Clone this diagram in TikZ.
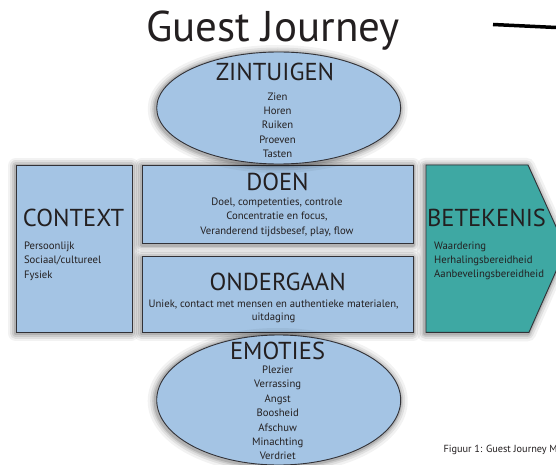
\documentclass[tikz,border=0pt]{standalone}
\usepackage{fontspec}
\setmainfont{PT Sans}
\usetikzlibrary{shapes.geometric}
\definecolor{boxblue}{RGB}{164,196,228}
\definecolor{tealbox}{RGB}{62,168,163}
\definecolor{edgegray}{RGB}{50,50,55}
\definecolor{ink}{RGB}{35,31,32}
\begin{document}
\begin{tikzpicture}[x=1pt,y=-1pt,
  glow/.style={
    preaction={draw=black,draw opacity=0.05,line width=16pt,line join=round,transform canvas={xshift=-1pt,yshift=-1pt}},
    preaction={draw=black,draw opacity=0.07,line width=11pt,line join=round,transform canvas={xshift=-1pt,yshift=-1pt}},
    preaction={draw=black,draw opacity=0.09,line width=7pt,line join=round,transform canvas={xshift=-1pt,yshift=-1pt}},
    preaction={draw=black,draw opacity=0.12,line width=4pt,line join=round,transform canvas={xshift=-1pt,yshift=-1pt}}},
  panel/.style={glow,draw=edgegray,line width=0.9pt,fill=boxblue,inner sep=0pt},
  heading/.style={font=\fontsize{24.5}{29}\selectfont,text=ink,inner sep=0pt,anchor=base},
  listc/.style={font=\fontsize{10.7}{14.4}\selectfont,text=ink,inner sep=0pt,align=center,anchor=base},
  listl/.style={font=\fontsize{10.7}{14.4}\selectfont,text=ink,inner sep=0pt,align=left,anchor=base west}]
\useasboundingbox (0,0) rectangle (556,465);
\fill[white] (0,0) rectangle (556,465);
% title and line
\node[font=\fontsize{43}{50}\selectfont,text=ink,inner sep=0pt,anchor=base] (title) at (273,42) {Guest Journey};
\coordinate (l1) at (493,24.5);
\coordinate (l2) at (556,27.5);
\draw[line width=3.5pt,black] (l1) -- (l2);
% boxes
\node[panel,minimum width=115.3pt,minimum height=167.3pt] (context) at (74.35,248.65) {};
\node[panel,minimum width=270.8pt,minimum height=78.5pt] (doen) at (278.1,204.25) {};
\node[panel,minimum width=270.8pt,minimum height=75.8pt] (ondergaan) at (278.1,294.4) {};
\draw[glow,draw=edgegray,line width=0.9pt,fill=tealbox] (426,165) -- (528,165) -- (566,248.65) -- (529,332.3) -- (426,332.3) -- cycle;
% ellipses
\node[panel,ellipse,minimum width=244pt,minimum height=112pt] (zint) at (278.7,108) {};
\node[panel,ellipse,minimum width=244pt,minimum height=130pt] (emot) at (278.7,400) {};
% texts (base anchor of a multi-line node = last line)
\node[heading] (zinth) at (275,80.7) {ZINTUIGEN};
\node[listc] (zintl) at (277.5,157.8) {Zien\\Horen\\Ruiken\\Proeven\\Tasten};
\node[heading] (doenh) at (277.5,190) {DOEN};
\node[listc] (doenl) at (277,234.3) {Doel, competenties, controle\\Concentratie en focus,\\Veranderend tijdsbesef, play, flow};
\node[heading] (conth) at (73.6,226.7) {CONTEXT};
\node[listl] (contl) at (23.8,278.3) {Persoonlijk\\Sociaal/cultureel\\Fysiek};
\node[heading] (ondh) at (277.7,290.7) {ONDERGAAN};
\node[listc,font=\fontsize{10.7}{13}\selectfont] (ondl) at (273.6,320.5) {Uniek, contact met mensen en authentieke materialen,\\uitdaging};
\node[heading] (beth) at (486.5,226.7) {BETEKENIS};
\node[listl] (betl) at (434,277.9) {Waardering\\Herhalingsbereidheid\\Aanbevelingsbereidheid};
\node[heading] (emoth) at (277.5,359.3) {EMOTIES};
\node[listc] (emotl) at (277.7,459.9) {Plezier\\Verrassing\\Angst\\Boosheid\\Afschuw\\Minachting\\Verdriet};
\node[font=\fontsize{10.3}{12}\selectfont,text=ink,inner sep=0pt,anchor=base west] (caption) at (443.3,452.3) {Figuur 1: Guest Journey M};
\end{tikzpicture}
\end{document}
